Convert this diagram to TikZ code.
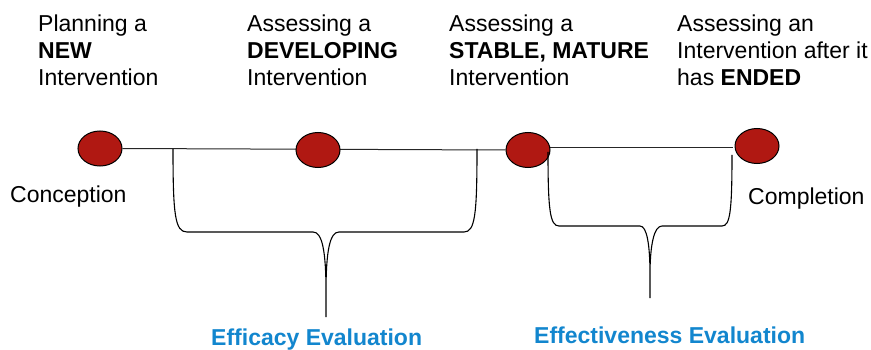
\documentclass[tikz,border=0pt]{standalone}
\usepackage{fontspec}
\setmainfont{Liberation Sans}
\usetikzlibrary{shapes.geometric,backgrounds}
\definecolor{dotred}{RGB}{176,24,18}
\definecolor{evalblue}{RGB}{18,134,206}
\begin{document}
\begin{tikzpicture}[x=1pt,y=-1pt,
  dot/.style={ellipse,draw=black,line width=1pt,fill=dotred,minimum width=44pt,minimum height=35pt,inner sep=0pt},
  label/.style={inner sep=0pt,font=\fontsize{23}{27}\selectfont,align=left},
  evallabel/.style={inner sep=0pt,font=\fontsize{23}{27}\selectfont\bfseries,text=evalblue,anchor=base west},
  timeline/.style={line width=1pt,black!85},
  brace/.style={line width=1.1pt,black}]
\useasboundingbox (0,0) rectangle (871,350);
% timeline dots
\node[dot] (e1) at (100,148.5) {};
\node[dot] (e2) at (318,150) {};
\node[dot] (e3) at (528,150) {};
\node[dot] (e4) at (757,146) {};
\coordinate (t3) at (549,148);
\coordinate (t4) at (733,148);
\begin{scope}[on background layer]
\draw[timeline] (e1.east) -- (e3.west);
\draw[timeline] (t3) -- (t4);
\end{scope}
% brackets
\coordinate (b1l) at (173,149);
\coordinate (b1r) at (477,149);
\coordinate (b1m) at (326,317);
\draw[brace] (b1l) .. controls (173,215) and (175,232) .. (187,232) -- (313,232)
  .. controls (322,232) and (326,250) .. (326,292) -- (b1m)
  (326,292) .. controls (326,250) and (330,232) .. (339,232) -- (464,232)
  .. controls (475,232) and (477,215) .. (b1r);
\coordinate (b2l) at (548,152);
\coordinate (b2r) at (732,155);
\coordinate (b2m) at (650,298);
\draw[brace] (b2l) .. controls (548,210) and (550,226) .. (559,226) -- (640,226)
  .. controls (647,226) and (650,245) .. (650,275) -- (b2m)
  (650,275) .. controls (650,245) and (654,226) .. (662,226) -- (722,226)
  .. controls (730,226) and (732,212) .. (b2r);
% labels
\node[label,anchor=base west] (conc) at (10,203) {Conception};
\node[label,anchor=base west] (comp) at (748,205) {Completion};
\node[label,anchor=north west] (p1) at (38,15) {Planning a\\\textbf{NEW}\\Intervention};
\node[label,anchor=north west] (p2) at (247,15) {Assessing a\\\textbf{DEVELOPING}\\Intervention};
\node[label,anchor=north west] (p3) at (449,15) {Assessing a\\\textbf{STABLE, MATURE}\\Intervention};
\node[label,anchor=north west] (p4) at (677,15) {Assessing an\\Intervention after it\\has \textbf{ENDED}};
\node[evallabel] (eff1) at (211,345) {Efficacy Evaluation};
\node[evallabel] (eff2) at (534,343) {Effectiveness Evaluation};
\end{tikzpicture}
\end{document}
